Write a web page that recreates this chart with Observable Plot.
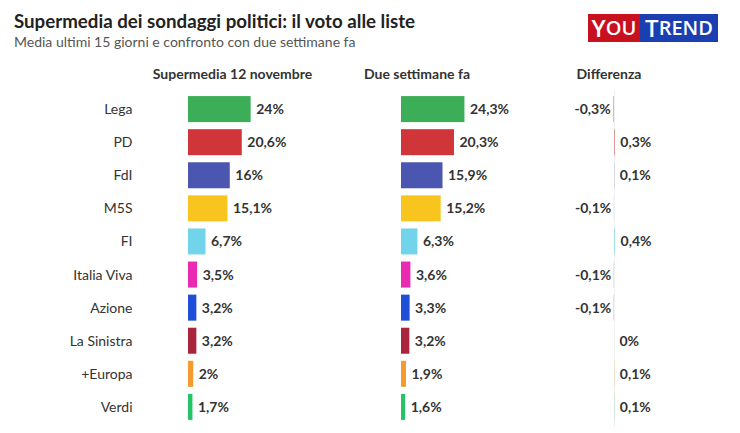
<!DOCTYPE html>
<html><head><meta charset="utf-8">
<script src="https://cdn.jsdelivr.net/npm/d3@7"></script>
<script src="https://cdn.jsdelivr.net/npm/@observablehq/plot@0.6"></script>
<style>
body{margin:0;background:#fff;font-family:Lato, "Open Sans", sans-serif;}
#wrap{position:relative;width:740px;height:433px;overflow:hidden;background:#fff;}
#head{position:absolute;left:14px;top:10px;}
#title{font-weight:700;font-size:18.7px;color:#222;line-height:22px;}
#sub{font-size:14px;color:#555;line-height:18px;margin-top:1px;}
#logo{position:absolute;left:588px;top:14px;height:28px;display:flex;font-family:"Open Sans",sans-serif;font-weight:600;color:#fff;}
#logo span{display:flex;align-items:center;justify-content:center;height:28px;font-size:24px;line-height:28px;}
#logo small{font-size:20px;}
#logo .r{width:52px;background:#c8101e;}
#logo .b{width:78px;background:#1b3fb0;}
#chart{position:absolute;left:0;top:58px;}
</style></head>
<body><div id="wrap">
<div id="head"><div id="title">Supermedia dei sondaggi politici: il voto alle liste</div>
<div id="sub">Media ultimi 15 giorni e confronto con due settimane fa</div></div>
<div id="logo"><span class="r">Y<small>OU</small></span><span class="b">T<small>REND</small></span></div>
<div id="chart"></div>
</div>
<script>
const parties = ["Lega","PD","FdI","M5S","FI","Italia Viva","Azione","La Sinistra","+Europa","Verdi"];
const supermedia = [24, 20.6, 16, 15.1, 6.7, 3.5, 3.2, 3.2, 2, 1.7];
const dueSettimane = [24.3, 20.3, 15.9, 15.2, 6.3, 3.6, 3.3, 3.2, 1.9, 1.6];
const differenza = [-0.3, 0.3, 0.1, -0.1, 0.4, -0.1, -0.1, 0, 0.1, 0.1];
const partyColors = ["#3cae57","#d0353a","#4b56b0","#f7c51e","#72d4ea","#e82bb0","#1f4fd8","#a8253d","#f59a2e","#25c267"];
const columns = ["Supermedia 12 novembre","Due settimane fa","Differenza"];

const rows = [];
parties.forEach((p, i) => {
  rows.push({party: p, col: columns[0], v: supermedia[i]});
  rows.push({party: p, col: columns[1], v: dueSettimane[i]});
  rows.push({party: p, col: columns[2], v: differenza[i]});
});
const fmt = d => String(d.v).replace(".", ",") + "%";
const labelStyle = {fontWeight: 700, fontSize: 14, fill: "#333"};

const chart = Plot.plot({
  width: 740, height: 373,
  marginLeft: 188, marginRight: 10, marginTop: 31, marginBottom: 4,
  style: {fontFamily: "Lato, 'Open Sans', sans-serif", color: "#333", background: "transparent"},
  fx: {domain: columns, paddingInner: 0.4554, paddingOuter: 0, round: false, axis: null, label: null},
  x: {domain: [0, 44.44], axis: null},
  y: {domain: parties, padding: 0.214, round: false, label: null, axis: null},
  color: {domain: parties, range: partyColors},
  marks: [
    Plot.axisY({tickSize: 0, tickPadding: 56, fontSize: 14, label: null, fill: "#333"}),
    Plot.ruleX([columns[2]], {fx: d => d, x: () => 0, stroke: "#f0f0f0"}),
    Plot.barX(rows.filter(d => d.col !== columns[2]), {fx: "col", y: "party", x: "v", fill: "party"}),
    Plot.barX(rows.filter(d => d.col === columns[2]), {fx: "col", y: "party", x: "v", fill: "party", fillOpacity: 0.6}),
    Plot.text(rows.filter(d => d.col !== columns[2]), {fx: "col", y: "party", x: "v", text: fmt, textAnchor: "start", dx: 5, ...labelStyle}),
    Plot.text(rows.filter(d => d.col === columns[2] && d.v >= 0), {fx: "col", y: "party", x: "v", text: fmt, textAnchor: "start", dx: 5, ...labelStyle}),
    Plot.text(rows.filter(d => d.col === columns[2] && d.v < 0), {fx: "col", y: "party", x: "v", text: fmt, textAnchor: "end", dx: -3, ...labelStyle}),
    Plot.text([columns[0]], {fx: d => d, text: d => d, frameAnchor: "top-left", lineAnchor: "middle", textAnchor: "middle", dx: 44, dy: -15, ...labelStyle}),
    Plot.text([columns[1]], {fx: d => d, text: d => d, frameAnchor: "top-left", lineAnchor: "middle", textAnchor: "middle", dx: 15.5, dy: -15, ...labelStyle}),
    Plot.text([columns[2]], {fx: d => d, text: d => d, frameAnchor: "top-left", lineAnchor: "middle", textAnchor: "middle", dx: -5.5, dy: -15, ...labelStyle})
  ]
});
document.getElementById("chart").appendChild(chart);
</script>
</body></html>
